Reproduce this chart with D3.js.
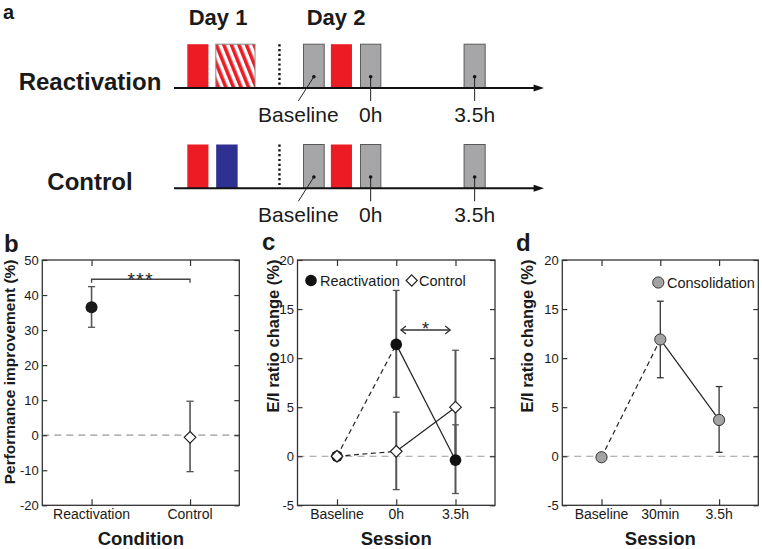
<!DOCTYPE html>
<html><head><meta charset="utf-8">
<script src="https://cdn.jsdelivr.net/npm/d3@7"></script>
<style>
body{margin:0;background:#fff;}
svg{display:block;font-family:"Liberation Sans",Arial,Helvetica,sans-serif;}
</style></head>
<body><svg id="fig" width="762" height="549"></svg>
<script>
// ---------- DATA ----------
// Panel a: protocol schematic (positions in schematic timeline units 0..100)
const rowsA = ["Reactivation", "Control"];
const dayLabels = ["Day 1", "Day 2"];
const dayPos = [11.9, 43.8];
const day1BlocksReact = [{s:3.6,e:9.3,type:"red"},{s:11.3,e:21.9,type:"stripe"}];
const day1BlocksCtrl  = [{s:3.6,e:9.3,type:"red"},{s:11.4,e:17.2,type:"blue"}];
const day2Blocks = [{s:35.0,e:40.6,type:"gray"},{s:42.4,e:48.1,type:"red"},{s:50.4,e:55.9,type:"gray"},{s:78.4,e:84.1,type:"gray"}];
const dayBreak = 28.5;
const sessionsA = ["Baseline", "0h", "3.5h"];
const sessionBlockIdx = [0, 2, 3];
const sessionLabelPos = [33.6, 53.2, 81.3];

// Panel b
const condB = ["Reactivation", "Control"];
const perfMean = [36.5, -0.6];
const perfLo = [30.8, -10.4];
const perfHi = [42.4, 9.7];
const yTicksB = [-20, -10, 0, 10, 20, 30, 40, 50];

// Panel c
const sessionsC = ["Baseline", "0h", "3.5h"];
const reactMean = [0, 11.4, -0.4];
const reactLo = [null, 6.0, -3.8];
const reactHi = [null, 16.9, 3.2];
const ctrlMean = [0, 0.5, 5.0];
const ctrlLo = [null, -3.4, -0.8];
const ctrlHi = [null, 4.5, 10.8];

// Panel d
const sessionsD = ["Baseline", "30min", "3.5h"];
const consMean = [-0.1, 11.9, 3.7];
const consLo = [null, 8.0, 0.4];
const consHi = [null, 15.8, 7.1];
const yTicksCD = [-5, 0, 5, 10, 15, 20];

// ---------- DRAW ----------
const svg = d3.select("#fig");
const RED = "#ec1c24", BLUE = "#2e3192", GRAY = "#a6a6a8";

const defs = svg.append("defs");
const pat = defs.append("pattern").attr("id","stripes").attr("patternUnits","userSpaceOnUse")
  .attr("width",7).attr("height",20).attr("patternTransform","rotate(-22)");
pat.append("rect").attr("width",7).attr("height",20).attr("fill","#fff");
pat.append("rect").attr("width",3.6).attr("height",20).attr("fill",RED);

function label(g, txt, x, y, size, weight, anchor){
  return g.append("text").attr("x",x).attr("y",y).attr("font-size",size)
    .attr("font-weight",weight||"normal").attr("text-anchor",anchor||"start")
    .attr("fill","#1a1a1a").text(txt);
}

// Panel letters
label(svg,"a",3,18.5,20,"bold");
label(svg,"b",4,251.5,24,"bold");
label(svg,"c",262,250,24,"bold");
label(svg,"d",516,251,24,"bold");

// ---- Panel a ----
const tx = d3.scaleLinear().domain([0,100]).range([174,544]);
const ga = svg.append("g");
dayLabels.forEach((d,i)=> label(ga,d,tx(dayPos[i]),24.5,22,"bold","middle"));

const rowAxisY = [88, 188.3];
const barH = 43.8;
rowsA.forEach((row,ri)=>{
  const y0 = rowAxisY[ri];
  const g = ga.append("g");
  label(g,row,90,y0+1.5,24,"bold","middle");
  const blocks = (ri===0?day1BlocksReact:day1BlocksCtrl).concat(day2Blocks);
  g.selectAll("rect.blk").data(blocks).join("rect")
    .attr("x",d=>tx(d.s)).attr("y",y0-barH).attr("width",d=>tx(d.e)-tx(d.s)).attr("height",barH)
    .attr("fill",d=>d.type==="red"?RED:d.type==="blue"?BLUE:d.type==="gray"?GRAY:"url(#stripes)")
    .attr("stroke",d=>d.type==="gray"?"#5a5a5a":d.type==="stripe"?"#888":"none")
    .attr("stroke-width",1);
  g.append("line").attr("x1",tx(dayBreak)).attr("x2",tx(dayBreak))
    .attr("y1",y0-barH).attr("y2",y0).attr("stroke","#111").attr("stroke-width",2.4)
    .attr("stroke-dasharray","2.2,2.6");
  g.append("line").attr("x1",tx(0)).attr("x2",tx(98)).attr("y1",y0).attr("y2",y0)
    .attr("stroke","#111").attr("stroke-width",2);
  g.append("path").attr("d",`M${tx(100)},${y0} L${tx(97.2)},${y0-3.5} L${tx(97.2)},${y0+3.5} Z`).attr("fill","#111");
  sessionsA.forEach((s,si)=>{
    const b = day2Blocks[sessionBlockIdx[si]];
    const cx = (tx(b.s)+tx(b.e))/2, cy = y0-11.3;
    const lx = tx(sessionLabelPos[si]);
    g.append("circle").attr("cx",cx).attr("cy",cy).attr("r",1.8).attr("fill","#111");
    g.append("line").attr("x1",cx).attr("y1",cy).attr("x2",si===0?lx:cx).attr("y2",y0+13)
      .attr("stroke","#222").attr("stroke-width",1);
    label(g,s,si===0?lx:cx,y0+33.7,21,"normal","middle");
  });
});

// ---- generic plotting panel ----
function panel(opts){
  const {left,right,top,bottom,yDomain,yTicks,xDomain,nCat,cats,ylab,ylabX,ylabSize,xlab} = opts;
  const g = svg.append("g");
  const x = d3.scaleLinear().domain(xDomain).range([left,right]);
  const y = d3.scaleLinear().domain(yDomain).range([bottom,top]);
  const catIdx = d3.range(1,nCat+1);
  g.append("line").attr("x1",left).attr("x2",right).attr("y1",y(0)).attr("y2",y(0))
    .attr("stroke","#9a9a9a").attr("stroke-width",1.2).attr("stroke-dasharray","7,5");
  const ax = (gen)=>{ const a = g.append("g").call(gen); a.select(".domain").remove();
    a.selectAll(".tick line").attr("stroke","#333").attr("stroke-width",1.2); return a; };
  const la = ax(d3.axisLeft(y).tickValues(yTicks).tickSize(-5).tickPadding(3.5).tickFormat(d=>String(d)))
    .attr("transform",`translate(${left},0)`);
  la.selectAll("text").attr("font-size",13).attr("fill","#1a1a1a").attr("font-family",null);
  ax(d3.axisRight(y).tickValues(yTicks).tickSize(-5).tickFormat("")).attr("transform",`translate(${right},0)`);
  ax(d3.axisBottom(x).tickValues(catIdx).tickSize(-6).tickFormat("")).attr("transform",`translate(0,${bottom})`);
  ax(d3.axisTop(x).tickValues(catIdx).tickSize(-6).tickFormat("")).attr("transform",`translate(0,${top})`);
  g.append("rect").attr("x",left).attr("y",top).attr("width",right-left).attr("height",bottom-top)
    .attr("fill","none").attr("stroke","#333").attr("stroke-width",1.3);
  cats.forEach((c,i)=> label(g,c,x(i+1),519,14,"normal","middle"));
  label(g,xlab,(left+right)/2,545,18.5,"bold","middle");
  g.append("text").attr("transform",`translate(${ylabX},${top-0.5}) rotate(-90)`)
    .attr("text-anchor","end").attr("font-size",ylabSize).attr("font-weight","bold")
    .attr("fill","#1a1a1a").text(ylab);
  return {g,x,y};
}

function errbars(g,x,y,lo,hi,color,width,cap){
  lo.forEach((l,i)=>{
    if(l===null) return;
    const xx = x(i+1);
    g.append("line").attr("x1",xx).attr("x2",xx).attr("y1",y(l)).attr("y2",y(hi[i]))
      .attr("stroke",color).attr("stroke-width",width);
    [l,hi[i]].forEach(v=> g.append("line").attr("x1",xx-cap).attr("x2",xx+cap)
      .attr("y1",y(v)).attr("y2",y(v)).attr("stroke",color).attr("stroke-width",1.3));
  });
}
function diamond(g,cx,cy,r){
  return g.append("path").attr("d",`M${cx},${cy-r} L${cx+r},${cy} L${cx},${cy+r} L${cx-r},${cy} Z`)
    .attr("fill","#fff").attr("stroke","#222").attr("stroke-width",1.2);
}
function seriesLines(g,x,y,vals){
  g.append("line").attr("x1",x(1)).attr("y1",y(vals[0])).attr("x2",x(2)).attr("y2",y(vals[1]))
    .attr("stroke","#222").attr("stroke-width",1.2).attr("stroke-dasharray","5,3.5");
  g.append("line").attr("x1",x(2)).attr("y1",y(vals[1])).attr("x2",x(3)).attr("y2",y(vals[2]))
    .attr("stroke","#222").attr("stroke-width",1.2);
}

// ---- Panel b ----
{
  const {g,x,y} = panel({left:42.3,right:239.3,top:260,bottom:505.3,yDomain:[-20,50],yTicks:yTicksB,
    xDomain:[0.5,2.5],nCat:2,cats:condB,ylab:"Performance improvement (%)",ylabX:14.5,ylabSize:15.5,xlab:"Condition"});
  errbars(g,x,y,perfLo,perfHi,"#555",1.6,3.6);
  g.append("circle").attr("cx",x(1)).attr("cy",y(perfMean[0])).attr("r",6).attr("fill","#1a1a1a");
  diamond(g,x(2),y(perfMean[1]),5.8);
  const sy = y(44.5);
  g.append("path").attr("d",`M${x(1)},${sy+3.5} V${sy} H${x(2)} V${sy+3.5}`)
    .attr("fill","none").attr("stroke","#444").attr("stroke-width",1.3);
  g.append("text").attr("x",(x(1)+x(2))/2).attr("y",sy+6.5).attr("text-anchor","middle")
    .attr("font-size",19).attr("letter-spacing",1.5).attr("fill","#222").text("***");
}

// ---- Panel c ----
{
  const {g,x,y} = panel({left:297.5,right:495,top:260,bottom:505.3,yDomain:[-5,20],yTicks:yTicksCD,
    xDomain:[1/3,11/3],nCat:3,cats:sessionsC,ylab:"E/I ratio change (%)",ylabX:278.5,ylabSize:16.5,xlab:"Session"});
  seriesLines(g,x,y,reactMean);
  seriesLines(g,x,y,ctrlMean);
  errbars(g,x,y,ctrlLo,ctrlHi,"#555",2,3.4);
  errbars(g,x,y,reactLo,reactHi,"#555",2,3.4);
  reactMean.forEach((v,i)=> g.append("circle").attr("cx",x(i+1)).attr("cy",y(v)).attr("r",5.8).attr("fill","#111"));
  ctrlMean.forEach((v,i)=> diamond(g,x(i+1),y(v),5.8));
  g.append("circle").attr("cx",311).attr("cy",280.5).attr("r",5.8).attr("fill","#111");
  label(g,"Reactivation",320,286,14.5,"normal");
  diamond(g,411.7,280.5,5.6);
  label(g,"Control",419,286,14.5,"normal");
  const ay = 330, ax1 = x(2)+4.7, ax2 = x(3)-5.3;
  g.append("line").attr("x1",ax1).attr("x2",ax2).attr("y1",ay).attr("y2",ay).attr("stroke","#333").attr("stroke-width",1.3);
  g.append("path").attr("d",`M${ax1+5},${ay-4} L${ax1},${ay} L${ax1+5},${ay+4} M${ax2-5},${ay-4} L${ax2},${ay} L${ax2-5},${ay+4}`)
    .attr("fill","none").attr("stroke","#333").attr("stroke-width",1.3);
  g.append("text").attr("x",(ax1+ax2)/2).attr("y",ay+4.5).attr("text-anchor","middle").attr("font-size",18).attr("fill","#222").text("*");
}

// ---- Panel d ----
{
  const {g,x,y} = panel({left:562.3,right:758.3,top:260,bottom:505.3,yDomain:[-5,20],yTicks:yTicksCD,
    xDomain:[1/3,11/3],nCat:3,cats:sessionsD,ylab:"E/I ratio change (%)",ylabX:532.5,ylabSize:16.5,xlab:"Session"});
  seriesLines(g,x,y,consMean);
  errbars(g,x,y,consLo,consHi,"#333",1.3,3.4);
  consMean.forEach((v,i)=> g.append("circle").attr("cx",x(i+1)).attr("cy",y(v)).attr("r",5.6)
    .attr("fill","#a3a3a3").attr("stroke","#333").attr("stroke-width",1));
  g.append("circle").attr("cx",658.3).attr("cy",282.5).attr("r",5.6).attr("fill","#a3a3a3").attr("stroke","#333").attr("stroke-width",1);
  label(g,"Consolidation",667,287.5,14.5,"normal");
}
</script></body></html>
